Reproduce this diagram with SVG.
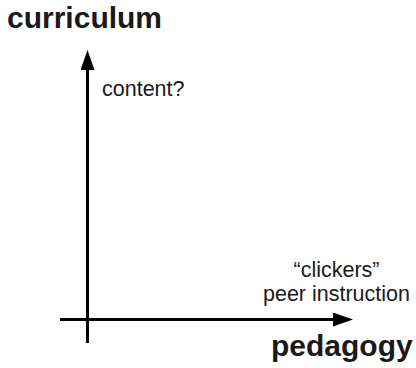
<svg xmlns="http://www.w3.org/2000/svg" width="416" height="368" viewBox="0 0 416 368">
  <style>
    .axis { stroke: #000; stroke-width: 3; fill: none; }
    .title { font-family: "Liberation Sans", Arial, sans-serif; font-weight: bold; font-size: 30px; fill: #1a1a1a; }
    .note { font-family: "Liberation Sans", Arial, sans-serif; font-size: 21.5px; fill: #1a1a1a; }
  </style>
  <defs>
    <marker id="head" viewBox="0 0 20 14" refX="0" refY="7" markerWidth="20" markerHeight="14" markerUnits="userSpaceOnUse" orient="auto">
      <path d="M0,0 L20,7 L0,14 Z" fill="#000"/>
    </marker>
  </defs>
  <rect width="416" height="368" fill="#fff"/>
  <!-- axes -->
  <g id="connectors">
    <line class="axis" x1="87.5" y1="343" x2="87.5" y2="70" marker-end="url(#head)"/>
    <line class="axis" x1="60" y1="319.5" x2="333" y2="319.5" marker-end="url(#head)"/>
  </g>
  <g id="curriculum">
    <text class="title" x="7" y="28">curriculum</text>
  </g>
  <g id="pedagogy">
    <text class="title" x="271" y="356">pedagogy</text>
  </g>
  <g id="content">
    <text class="note" x="102" y="96">content?</text>
  </g>
  <g id="methods">
    <text class="note" x="336.5" y="277" text-anchor="middle">“clickers”</text>
    <text class="note" x="336.5" y="301" text-anchor="middle">peer instruction</text>
  </g>
</svg>
